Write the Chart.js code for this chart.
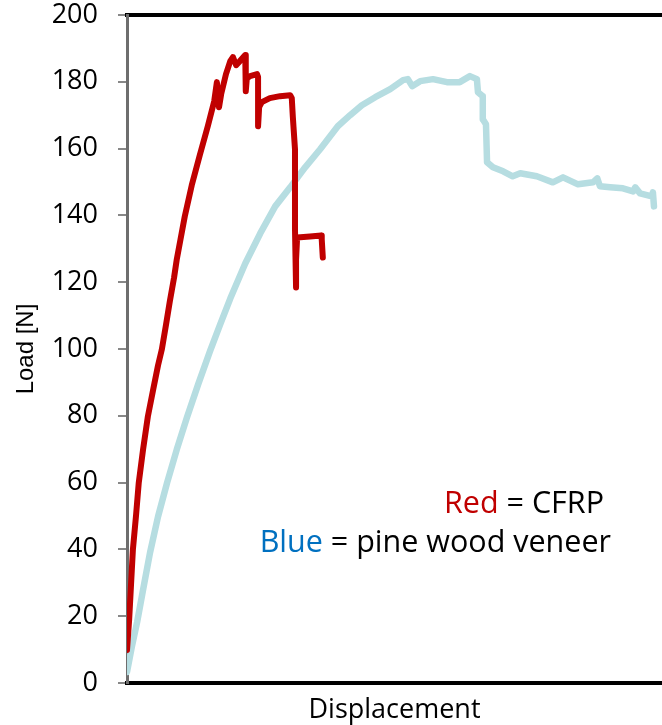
<!DOCTYPE html>
<html>
<head>
<meta charset="utf-8">
<script src="https://cdn.jsdelivr.net/npm/chart.js@4"></script>
<style>
  html, body { margin: 0; padding: 0; background: #fff; overflow: hidden; }
  canvas { display: block; }
</style>
</head>
<body>
<canvas id="chart" width="662" height="725"></canvas>
<script>
// CFRP specimen: displacement (arbitrary units) and load [N]
const redX = [0, 0.04, 0.11, 0.17, 0.22, 0.30, 0.39, 0.49, 0.58, 0.65, 0.73, 0.80, 0.88, 0.93, 1.01, 1.08,
  1.21, 1.36, 1.51, 1.63, 1.68,
  1.72, 1.76, 1.85, 1.93, 1.98, 2.04, 2.11, 2.21, 2.22, 2.22, 2.24, 2.30, 2.43, 2.45, 2.45, 2.47, 2.52,
  2.67, 2.86, 3.05, 3.08, 3.10, 3.14, 3.14, 3.16, 3.16, 3.18, 3.42, 3.63, 3.64, 3.66];
const redY = [9.9, 18.9, 39.9, 50.4, 60.0, 69.9, 79.8, 87.9, 95.1, 99.8, 107.3, 114.2, 121.4, 126.8, 133.7, 139.7,
  149.0, 158.0, 166.7, 174.2, 179.9,
  172.4, 176.3, 182.3, 186.2, 187.4, 185.0, 186.2, 188.0, 183.2, 177.2, 181.1, 181.7, 182.3, 181.4, 166.7, 172.4, 173.9,
  175.1, 175.7, 176.0, 175.1, 169.4, 159.8, 135.8, 118.4, 126.8, 133.4, 133.7, 134.0, 132.8, 127.4];

// pine wood veneer specimen
const blueX = [0.00, 0.09, 0.19, 0.30, 0.43, 0.58, 0.75, 0.93, 1.12, 1.33, 1.55, 1.74, 1.93, 2.21, 2.49, 2.77,
  3.05, 3.33, 3.61, 3.94, 4.17, 4.39, 4.64, 4.92, 5.16, 5.25, 5.33, 5.48, 5.72, 5.98, 6.22, 6.41, 6.54,
  6.56, 6.65, 6.65, 6.71, 6.73, 6.84, 7.03, 7.21, 7.35, 7.66, 7.96, 8.15, 8.43, 8.71, 8.79, 8.84, 9.03,
  9.27, 9.46, 9.50, 9.59, 9.81, 9.83, 9.85];
const blueY = [3.3, 10.8, 18.3, 27.9, 39.0, 49.8, 60.0, 69.9, 79.5, 89.4, 99.3, 107.3, 115.1, 125.6, 134.6, 142.7,
  148.4, 154.4, 159.8, 166.7, 170.0, 173.0, 175.4, 177.8, 180.5, 180.8, 178.7, 180.2, 180.8, 179.9, 179.9, 181.7, 180.8,
  176.9, 175.7, 168.8, 167.3, 155.9, 154.4, 153.2, 151.7, 152.6, 151.7, 149.9, 151.4, 149.3, 149.9, 151.1, 148.7, 148.4,
  148.1, 147.2, 148.4, 146.6, 145.7, 146.9, 142.7];

const loadMin = 0, loadMax = 200, loadStep = 20;
const dispMin = 0, dispMax = 10;

const toPoints = (xs, ys) => xs.map((x, i) => ({ x: x, y: ys[i] }));

// text key drawn inside the plot
const noteLines = [
  { word: "Red", color: "#C00000", rest: " = CFRP", right: 604, baseline: 513 },
  { word: "Blue", color: "#0070C0", rest: " = pine wood veneer", right: 611, baseline: 552 }
];

const notePlugin = {
  id: "notes",
  afterDraw(chart) {
    const ctx = chart.ctx;
    ctx.save();
    ctx.font = '30.5px "Open Sans"';
    ctx.textAlign = "left";
    ctx.textBaseline = "alphabetic";
    noteLines.forEach(l => {
      const w = ctx.measureText(l.word + l.rest).width;
      const x0 = l.right - w;
      ctx.fillStyle = l.color;
      ctx.fillText(l.word, x0, l.baseline);
      ctx.fillStyle = "#000";
      ctx.fillText(l.rest, x0 + ctx.measureText(l.word).width, l.baseline);
    });
    ctx.restore();
  }
};

new Chart(document.getElementById("chart"), {
  type: "line",
  data: {
    datasets: [
      {
        label: "CFRP",
        data: toPoints(redX, redY),
        borderColor: "#C00000",
        borderWidth: 6,
        pointRadius: 0,
        tension: 0,
        borderJoinStyle: "round",
        borderCapStyle: "round",
        order: 0
      },
      {
        label: "pine wood veneer",
        data: toPoints(blueX, blueY),
        borderColor: "#B6DDE1",
        borderWidth: 6.5,
        pointRadius: 0,
        tension: 0,
        borderJoinStyle: "round",
        borderCapStyle: "round",
        order: 1
      }
    ]
  },
  options: {
    responsive: false,
    animation: false,
    layout: { padding: { top: 15, right: 0, bottom: 0, left: 0 } },
    plugins: {
      legend: { display: false },
      tooltip: { enabled: false }
    },
    scales: {
      x: {
        type: "linear",
        position: "bottom",
        min: dispMin,
        max: dispMax,
        ticks: { display: false },
        grid: { display: false },
        border: { display: true, color: "#000", width: 4 },
        title: {
          display: true,
          text: "Displacement",
          color: "#000",
          font: { family: "Open Sans", size: 27 },
          padding: { top: 0, bottom: -2 }
        },
        afterFit(scale) { scale.height = 42; }
      },
      xTop: {
        type: "linear",
        position: "top",
        min: dispMin,
        max: dispMax,
        ticks: { display: false },
        grid: { display: false },
        border: { display: true, color: "#000", width: 4 },
        afterFit(scale) { scale.height = 0; }
      },
      y: {
        type: "linear",
        min: loadMin,
        max: loadMax,
        ticks: {
          stepSize: loadStep,
          color: "#000",
          padding: 20,
          font: { family: "Open Sans", size: 27 }
        },
        grid: { drawOnChartArea: false, drawTicks: true, tickLength: 9, color: "#888", lineWidth: 2 },
        border: { display: true, color: "#6e6e6e", width: 3 },
        title: {
          display: true,
          text: "Load [N]",
          color: "#000",
          font: { family: "Liberation Sans", size: 24 },
          padding: { top: 12, bottom: 0 }
        },
        afterFit(scale) {
          scale.width = 127;
          // let the plot run right up to the padding edge
          scale.paddingTop = 0;
          scale.paddingBottom = 0;
        }
      }
    }
  },
  plugins: [notePlugin]
});
</script>
</body>
</html>
